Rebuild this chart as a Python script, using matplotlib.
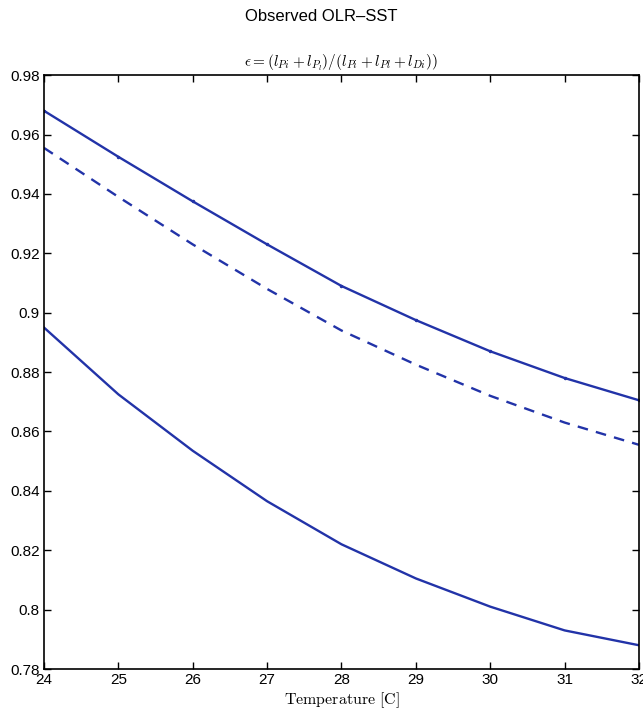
import numpy as np
import matplotlib
matplotlib.use("Agg")
import matplotlib.pyplot as plt

plt.rcParams['mathtext.fontset'] = 'cm'
plt.rcParams['font.family'] = ['Liberation Sans', 'DejaVu Sans']

# sea surface temperature [C]
temp = [24, 25, 26, 27, 28, 29, 30, 31, 32]
# efficiency curves
eps_upper = [0.968, 0.9525, 0.9375, 0.923, 0.909, 0.8975, 0.887, 0.878, 0.8705]
eps_dashed = [0.9555, 0.939, 0.923, 0.908, 0.894, 0.8825, 0.872, 0.863, 0.8555]
eps_lower = [0.895, 0.8725, 0.8535, 0.8365, 0.822, 0.8105, 0.801, 0.793, 0.788]

blue = '#2233a8'

fig = plt.figure(figsize=(6.43, 7.09), dpi=100, facecolor='white')
ax = fig.add_axes([0.0684, 0.0564, 0.9254, 0.8376])

ax.plot(temp, eps_upper, '-', color=blue, lw=1.7, marker='.', ms=3)
ax.plot(temp, eps_dashed, '--', color=blue, lw=1.7, dashes=(4.5, 3.5))
ax.plot(temp, eps_lower, '-', color=blue, lw=1.7)

ax.set_xlim(24, 32)
ax.set_ylim(0.78, 0.98)
ax.set_xticks(temp)
ax.set_xticklabels([str(t) for t in temp])
yt = np.arange(0.78, 0.981, 0.02)
ax.set_yticks(yt)
ax.set_yticklabels(['%g' % round(v, 2) for v in yt])
ax.tick_params(direction='in', top=True, right=True, length=5, width=1,
               labelsize=11, pad=3)
for s in ax.spines.values():
    s.set_linewidth(1.2)

ax.set_xlabel(r'$\mathrm{Temperature\ [C]}$', fontsize=11.5, labelpad=2)
ax.set_title(r'$\epsilon = (l_{Pi} + l_{P_l})/(l_{Pi} + l_{Pl} + l_{Di}))$',
             fontsize=11, pad=6)
fig.suptitle('Observed OLR\u2013SST', y=0.988, fontsize=12)

fig.savefig('out.png', dpi=100, facecolor='white')
